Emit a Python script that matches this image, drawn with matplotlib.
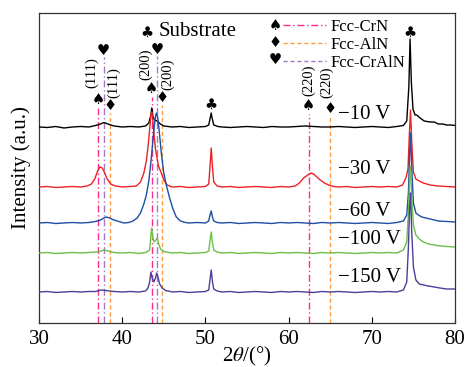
import numpy as np
import matplotlib
matplotlib.use('Agg')
import matplotlib.pyplot as plt
from matplotlib.lines import Line2D

plt.rcParams['font.family'] = ['Liberation Serif', 'DejaVu Sans']
plt.rcParams['mathtext.fontset'] = 'stix'

# XRD patterns, intensity above each pattern's own baseline (a.u.)
x_10 = [30, 31, 32, 33, 34, 35, 36, 36.8, 37.4, 37.8, 38.3, 39, 40, 41, 42, 42.8, 43.2, 43.45, 43.55,
        43.7, 43.9, 44.2, 44.6, 45, 46, 47, 48, 49, 50, 50.4, 50.6, 50.7, 50.8, 51.0, 51.5, 52, 53, 54,
        55, 56, 57, 58, 59, 60, 61, 62, 63, 64, 65, 66, 67, 68, 69, 70, 71, 72, 73, 73.8, 74.2, 74.45,
        74.6, 74.75, 74.95, 75.2, 75.4, 75.8, 76.3, 77, 77.5, 78, 78.5, 79, 79.5, 80]
y_10 = [0, -0.5, 0.5, -1, 0, 0.5, 0, 1.5, 3, 4.5, 3, 1, 0, 0.5, 0, 1, 4, 12, 19,
        10, 7, 6, 3, 1, 0, 0.5, -0.5, 0, 0.5, 2, 10, 14, 9, 2, 0.5, 0, -0.5, 0,
        0.5, 0, -0.5, 0.5, 0, 0, 0.5, 1, 0.5, 0, 0, 0.5, 0, -0.5, 0, 0.5, 0, -0.5, 0.5, 1.5, 6, 40,
        88, 45, 18, 12, 12, 9, 6, 5, 5, 3, 3, 2, 2, 1.5]

x_30 = [30, 31, 32, 33, 34, 35, 35.8, 36.3, 36.7, 37.0, 37.3, 37.6, 37.9, 38.2, 38.6, 39.2, 40, 41,
        41.7, 42.2, 42.6, 42.9, 43.1, 43.3, 43.45, 43.55, 43.65, 43.8, 44.0, 44.2, 44.4, 44.7, 45.0,
        45.4, 46, 47, 48, 49, 50, 50.4, 50.55, 50.7, 50.85, 51.0, 51.4, 52, 53, 54, 55, 56, 57, 58,
        59, 60, 60.8, 61.3, 61.8, 62.3, 62.7, 63.0, 63.4, 63.8, 64.3, 64.8, 65.4, 66, 67, 68, 69, 70,
        71, 72, 73, 73.7, 74.1, 74.35, 74.5, 74.65, 74.8, 75.0, 75.3, 75.7, 76.2, 77, 78, 79, 80]
y_30 = [0, 0.5, -0.5, 0, 0.5, 0, 1, 3, 8, 15, 20, 19, 14, 8, 3, 1, 0, 0.5,
        1, 5, 14, 26, 40, 58, 72, 75, 70, 55, 38, 28, 20, 14, 7,
        2, 0, 0.5, -0.5, 0, 0.5, 3, 20, 39, 20, 5, 1, 0, 0.5, -0.5, 0, 0.5, 0, -0.5,
        0.5, 0, 1, 4, 9, 12, 14, 13, 10, 7, 4, 2, 0.5, 0, 0.5, -0.5, 0, 0.5,
        0, 0.5, 0, 2, 9, 18, 50, 77, 45, 15, 8, 6, 4, 2, 1, 0.5, 0]

x_60 = [30, 31, 32, 33, 34, 35, 36, 36.8, 37.4, 37.8, 38.1, 38.5, 39, 39.6, 40.2, 40.8, 41.3, 41.8,
        42.2, 42.6, 42.9, 43.2, 43.5, 43.75, 43.95, 44.1, 44.25, 44.45, 44.7, 45.0, 45.3, 45.7, 46.1,
        46.5, 47, 47.6, 48, 49, 50, 50.4, 50.55, 50.7, 50.85, 51.0, 51.4, 52, 53, 54, 55, 56, 57, 58,
        59, 60, 61, 62, 63, 64, 65, 66, 67, 68, 69, 70, 71, 72, 73, 73.8, 74.2, 74.4, 74.55, 74.65,
        74.8, 75.0, 75.3, 75.6, 76, 76.5, 77, 77.5, 78, 79, 80]
y_60 = [0, 0.5, -0.5, 0, 0.5, 0, 0.5, 1.5, 3, 5, 6, 5, 3, 1.5, 0, 0.5, 2, 5,
        10, 19, 28, 42, 65, 88, 104, 110, 106, 92, 70, 50, 38, 25, 14,
        6, 2, 0.5, 0, 0.5, 0, 2, 8, 12, 6, 2, 0.5, 0, 0.5, -0.5, 0, 0.5, 0, -0.5,
        0.5, 0, 0.5, 0, -0.5, 0.5, 0, 0.5, 0, -0.5, 0, 0.5, 0, -0.5, 0.5, 2, 8, 30, 70, 90,
        55, 20, 10, 8, 6, 5, 4, 3, 2, 1.5, 1]

x_100 = [30, 31, 32, 33, 34, 35, 36, 37.3, 37.8, 38.3, 39, 40, 41, 42, 42.8, 43.3, 43.45, 43.55,
         43.7, 43.85, 44.05, 44.2, 44.35, 44.6, 45, 45.6, 46, 47, 48, 49, 50, 50.4, 50.55, 50.7,
         50.85, 51.0, 51.4, 52, 53, 54, 55, 56, 57, 58, 59, 60, 61, 62, 63, 64, 65, 66, 67, 68, 69,
         70, 71, 72, 73, 73.8, 74.2, 74.4, 74.55, 74.65, 74.8, 75.0, 75.3, 75.7, 76.2, 76.8, 77.5,
         78.2, 79, 80]
y_100 = [0, 0.5, -0.5, 0, 0.5, 0, 0.5, 1.5, 3, 2, 0.5, 0, 0.5, -0.5, 0.5, 3, 18, 25,
         14, 11, 13, 15, 10, 4, 1.5, 0.5, 0, 0.5, -0.5, 0, 0.5, 2, 12, 21,
         10, 3, 1, 0, 0.5, -0.5, 0, 0.5, 0, -0.5, 0.5, 0, 0.5, 0, -0.5, 0.5, 0, 0.5, 0, -0.5, 0,
         0.5, 0, 0.5, 0, 3, 11, 40, 75, 87, 55, 28, 18, 14, 11, 9, 8,
         7, 6.5, 6]

x_150 = [30, 31, 32, 33, 34, 35, 36, 36.8, 37.5, 38, 38.5, 39, 40, 41, 42, 42.8, 43.1, 43.3, 43.45,
         43.6, 43.8, 44.0, 44.15, 44.3, 44.5, 44.8, 45.2, 45.8, 46, 47, 48, 49, 50, 50.4, 50.55,
         50.7, 50.85, 51.0, 51.4, 52, 53, 54, 55, 56, 57, 58, 59, 60, 61, 62, 63, 64, 65, 66, 67, 68,
         69, 70, 71, 72, 73, 73.8, 74.2, 74.4, 74.55, 74.65, 74.8, 75.0, 75.3, 75.7, 76.2, 76.8,
         77.5, 78.2, 79, 80]
y_150 = [0, 0.5, -0.5, 0, 0.5, 0, 0.5, 0.5, 2, 1.5, 1, 0.5, 0, 0.5, 0, 1, 4, 10, 20,
         14, 10, 14, 19, 15, 8, 4, 1.5, 0.5, 0, 0.5, -0.5, 0, 0.5, 2, 12,
         22, 10, 3, 1, 0, 0.5, -0.5, 0, 0.5, 0, -0.5, 0.5, 0, 0.5, 0, -0.5, 0.5, 0, 0.5, 0, -0.5,
         0, 0.5, 0, 0.5, 0, 2, 10, 45, 85, 99, 60, 25, 12, 8, 7, 6,
         5, 4, 3, 3]

bias_labels = ['\u221210 V', '\u221230 V', '\u221260 V', '\u2212100 V', '\u2212150 V']
patterns = [(x_10, y_10), (x_30, y_30), (x_60, y_60), (x_100, y_100), (x_150, y_150)]
offsets = [196, 136, 100, 70, 31]
colors = ['black', '#ec2227', '#1e4fa3', '#6cbf47', '#4b3f98']
label_y = [208, 153, 111, 83, 45]

# reference peak positions (2theta)
crn_pos = [37.13, 43.55, 62.42]
aln_pos = [38.53, 44.80, 64.98]
cralN_pos = [37.77, 44.20]
crn_hkl = ['(111)', '(200)', '(220)']
aln_hkl = ['(111)', '(200)', '(220)']
substrate_pos = [50.7, 74.65]

fig = plt.figure(figsize=(4.66, 3.67), dpi=100)
ax = fig.add_axes([0.0837, 0.1199, 0.8927, 0.8447])

for (xs, ys), off, c in zip(patterns, offsets, colors):
    ax.plot(xs, np.array(ys) + off, color=c, lw=1.0, zorder=3)

for lab, ly in zip(bias_labels, label_y):
    ax.text(65.9, ly, lab, fontsize=15, va='center', ha='left')

# reference lines with markers
crn_top = [215, 226, 209]
aln_top = [210, 218, 207]
cralN_top = [266, 267]
ax.vlines(crn_pos, 0, crn_top, colors='#ff2a8c', linestyles=(0, (5, 2, 1, 2)), lw=1.0, zorder=2)
ax.vlines(aln_pos, 0, aln_top, colors='#ff9a3d', linestyles=(0, (3, 2)), lw=1.0, zorder=2)
ax.vlines(cralN_pos, 0, cralN_top, colors='#a57ac2', linestyles=(0, (5, 2, 1, 2)), lw=1.0, zorder=2)

sym = dict(family=['DejaVu Sans'], ha='center', va='center', fontsize=10.5)
for xp, top in zip(crn_pos, crn_top):
    ax.text(xp, top + 8, '\u2660', **sym)
for xp, top in zip(aln_pos, aln_top):
    ax.text(xp, top + 7, '\u2666', **sym)
for xp, top in zip(cralN_pos, cralN_top):
    ax.text(xp, top + 6, '\u2665', **sym)
ax.text(substrate_pos[0], 219, '\u2663', **sym)
ax.text(substrate_pos[1] - 0.1, 291, '\u2663', **sym)

# hkl labels
hkl_dx_crn = [-0.75, -0.7, 0.0]
hkl_dx_aln = [0.45, 0.7, -0.4]
hkl_y_crn = [250, 259, 243]
hkl_y_aln = [240, 249, 241]
for xp, lab, dx, yy in zip(crn_pos, crn_hkl, hkl_dx_crn, hkl_y_crn):
    ax.text(xp + dx, yy, lab, rotation=90, fontsize=10.5, ha='center', va='center')
for xp, lab, dx, yy in zip(aln_pos, aln_hkl, hkl_dx_aln, hkl_y_aln):
    ax.text(xp + dx, yy, lab, rotation=90, fontsize=10.5, ha='center', va='center')

ax.text(43.0, 291, '\u2663', **sym)
ax.text(44.4, 291, 'Substrate', fontsize=15, ha='left', va='center')

# legend
handles = [Line2D([], [], color='#ff2a8c', lw=1.0, linestyle=(0, (5, 2, 1, 2))),
           Line2D([], [], color='#ff9a3d', lw=1.0, linestyle=(0, (3, 2))),
           Line2D([], [], color='#a57ac2', lw=1.0, linestyle=(0, (3, 2)))]
ax.legend(handles, ['Fcc-CrN', 'Fcc-AlN', 'Fcc-CrAlN'], loc='upper left',
          bbox_to_anchor=(0.5865, 0.982), frameon=False, fontsize=12, handlelength=2.6,
          handletextpad=0.25, labelspacing=0.12, borderpad=0, borderaxespad=0)
for yy, s in zip([0.96, 0.905, 0.85], ['\u2660', '\u2666', '\u2665']):
    ax.text(0.567, yy, s, transform=ax.transAxes, **sym)

ax.set_xlim(30, 80)
ax.set_ylim(0, 310)
ax.set_xticks([30, 40, 50, 60, 70, 80])
ax.set_yticks([])
ax.tick_params(axis='x', direction='in', length=4, labelsize=15, pad=5)
for sp in ax.spines.values():
    sp.set_linewidth(0.9)
    sp.set_color('#333333')
ax.set_xlabel(r'2$\theta$/(°)', fontsize=15, labelpad=-3)
ax.set_ylabel('Intensity (a.u.)', fontsize=15, labelpad=6)

fig.savefig('out.png', dpi=100)
